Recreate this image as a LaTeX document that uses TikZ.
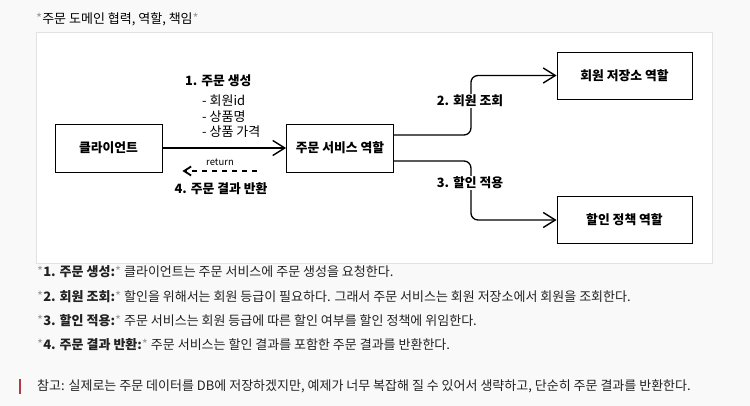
\documentclass[tikz,border=0pt]{standalone}
\usepackage{fontspec}
\setmainfont{Noto Sans CJK KR}
\usetikzlibrary{arrows.meta}
\definecolor{bg}{HTML}{F9F9F9}
\definecolor{panelborder}{HTML}{E2E2E2}
\definecolor{star}{HTML}{9A9A9A}
\definecolor{bodytext}{HTML}{222222}
\definecolor{notebar}{HTML}{B23A48}
\tikzset{
  role/.style={draw=black, line width=0.9pt, fill=white, minimum width=107pt, minimum height=48pt, inner sep=0pt, font=\fontsize{12.8}{14}\selectfont\bfseries},
  rolewide/.style={role, minimum width=135pt, minimum height=47pt},
  conn/.style={line width=1.3pt, draw=black, -{Straight Barb[length=12pt,width=15pt,line width=1.4pt]}},
  retconn/.style={line width=1.3pt, draw=black, dash pattern=on 5pt off 5pt, -{Straight Barb[length=7pt,width=9pt,line width=1.8pt]}},
  lbl/.style={font=\fontsize{12.8}{14}\selectfont\bfseries, inner sep=0pt},
  sublbl/.style={font=\fontsize{13}{14}\selectfont, inner sep=0pt, anchor=west},
  bodyline/.style={anchor=west, inner sep=0pt, text=bodytext, font=\fontsize{13}{15}\selectfont},
}
\begin{document}
\begin{tikzpicture}[x=1pt,y=-1pt]
\fill[bg] (0,0) rectangle (750,406);
\useasboundingbox (0,0) rectangle (750,406);
% panel
\draw[panelborder, fill=white, line width=0.8pt] (36,32) rectangle (712,263);
% title
\node[anchor=west, inner sep=0pt, font=\fontsize{13}{15}\selectfont, text=black] (title) at (36,19) {\textcolor{star}{*}주문 도메인 협력, 역할, 책임\textcolor{star}{*}};
% boxes
\node[role] (client) at (108.5,148) {클라이언트};
\node[role] (svc) at (340,148) {주문 서비스 역할};
\node[rolewide] (repo) at (624.5,75.5) {회원 저장소 역할};
\node[rolewide] (disc) at (624.5,220) {할인 정책 역할};
% arrows
\draw[conn] (client.east) -- (svc.west);
\draw[retconn] ([xshift=-29pt,yshift=-23pt]svc.west) -- ([xshift=20pt,yshift=-23pt]client.east);
\draw[conn, rounded corners=7pt] ([yshift=13pt]svc.east) -- ++(77,0) |- (repo.west);
\draw[conn, rounded corners=7pt] ([yshift=-13pt]svc.east) -- ++(77,0) |- (disc.west);
% labels
\node[lbl, anchor=west] (l1) at (185,81) {1. 주문 생성};
\node[sublbl] (l1a) at (202,101) {- 회원id};
\node[sublbl] (l1b) at (202,117) {- 상품명};
\node[sublbl] (l1c) at (202,132) {- 상품 가격};
\node[font=\fontsize{9.5}{10}\selectfont, inner sep=0pt] (ret) at (220,162) {return};
\node[lbl] (l4) at (221,189) {4. 주문 결과 반환};
\node[lbl, fill=white, inner sep=1pt] (l2) at (470,101) {2. 회원 조회};
\node[lbl, fill=white, inner sep=1pt] (l3) at (470,183) {3. 할인 적용};
% body text
\node[bodyline] (t1) at (37,272) {\textcolor{star}{*}\textbf{1. 주문 생성:}\textcolor{star}{*} 클라이언트는 주문 서비스에 주문 생성을 요청한다.};
\node[bodyline] (t2) at (37,297) {\textcolor{star}{*}\textbf{2. 회원 조회:}\textcolor{star}{*} 할인을 위해서는 회원 등급이 필요하다. 그래서 주문 서비스는 회원 저장소에서 회원을 조회한다.};
\node[bodyline] (t3) at (37,321) {\textcolor{star}{*}\textbf{3. 할인 적용:}\textcolor{star}{*} 주문 서비스는 회원 등급에 따른 할인 여부를 할인 정책에 위임한다.};
\node[bodyline] (t4) at (37,345) {\textcolor{star}{*}\textbf{4. 주문 결과 반환:}\textcolor{star}{*} 주문 서비스는 할인 결과를 포함한 주문 결과를 반환한다.};
% note
\fill[notebar] (18.5,379) rectangle (20.5,394);
\node[bodyline] (note) at (37,386) {참고: 실제로는 주문 데이터를 DB에 저장하겠지만, 예제가 너무 복잡해 질 수 있어서 생략하고, 단순히 주문 결과를 반환한다.};
\end{tikzpicture}
\end{document}
